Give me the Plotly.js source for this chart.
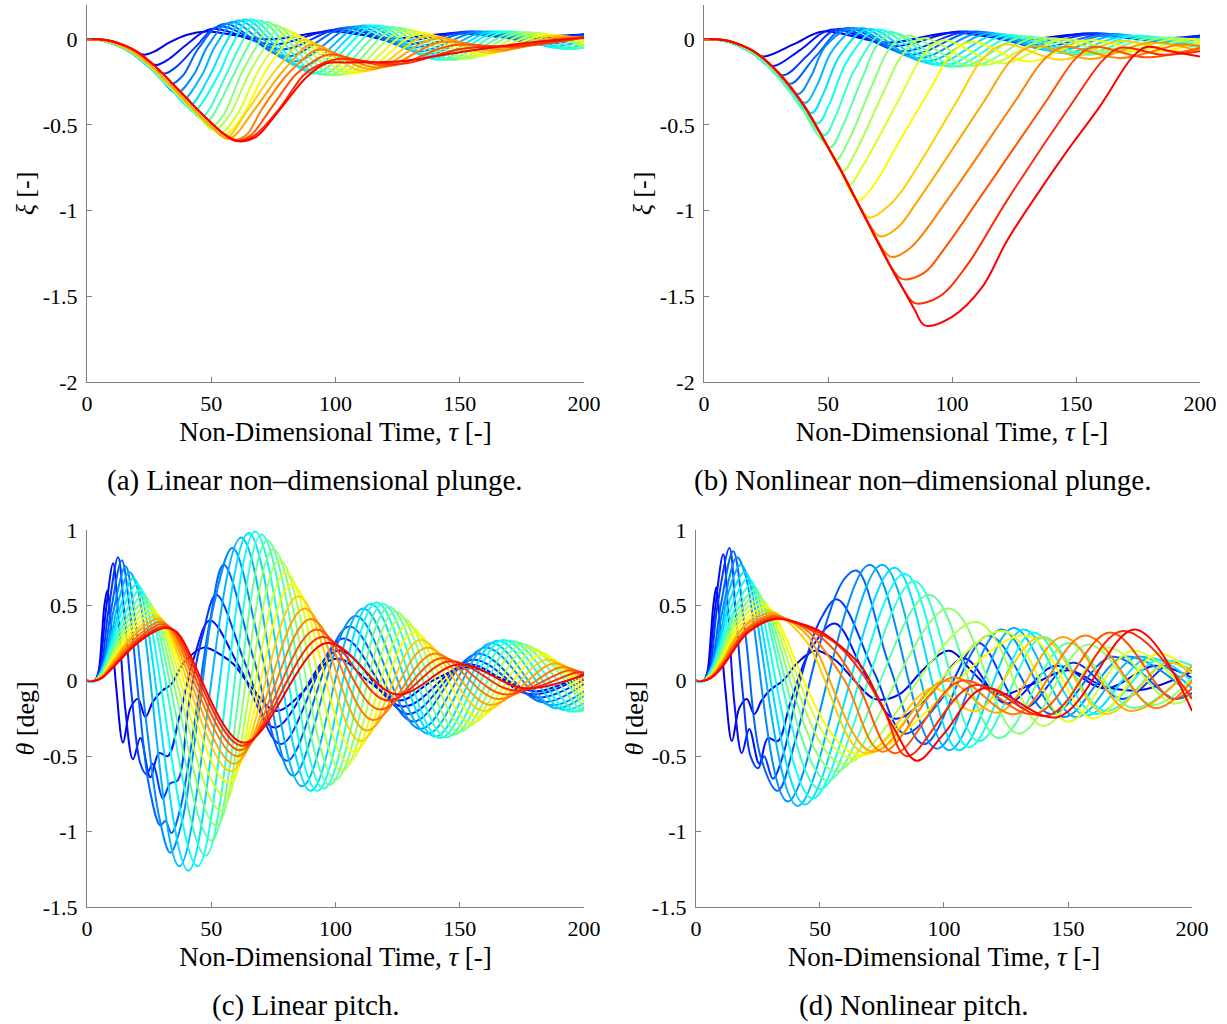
<!DOCTYPE html>
<html><head><meta charset="utf-8">
<script src="https://cdn.plot.ly/plotly-3.0.1.min.js"></script>
<style>html,body{margin:0;padding:0;background:#fff}#chart{width:1227px;height:1024px}</style>
</head><body><div id="chart"></div>
<script>
// ---- tick values / labels ----
const tauTicks = [0, 50, 100, 150, 200];
const plungeTicks = [0, -0.5, -1, -1.5, -2];
const pitchTicks = [1, 0.5, 0, -0.5, -1, -1.5];
const captions = ['(a) Linear non\u2013dimensional plunge.', '(b) Nonlinear non\u2013dimensional plunge.', '(c) Linear pitch.', '(d) Nonlinear pitch.'];

// ---- (a) linear plunge: time points and xi values, one row per gust case (blue -> red) ----
const linPlungeTau = [
[0,5,10,15,20,23,27,33,40,48,73,98,123,148,173,198,200],
[0,5,10,15,20,25,28,33,41,50,75,100,125,150,175,200],
[0,5,10,15,20,25,31,36,44,53,78,103,128,153,178,200],
[0,5,10,15,20,25,30,34,38.7,45,55,80,105,130,155,180,200],
[0,5,10,15,20,25,30,36,42.8,49,58,83,108,133,158,183,200],
[0,5,10,15,20,25,30,35,38.5,46.2,52,61,86,111,136,161,186,200],
[0,5,10,15,20,25,30,35,41,49.5,55.5,63.5,88.5,113.5,138.5,163.5,188.5,200],
[0,5,10,15,20,25,30,35,40,43,52.8,58.5,66,91,116,141,166,191,200],
[0,5,10,15,20,25,30,35,40,46,55.9,61.5,69,94,119,144,169,194,200],
[0,5,10,15,20,25,30,35,40,45,48,58.9,64.5,72,97,122,147,172,197,200],
[0,5,10,15,20,25,30,35,40,45,50,55,61.8,67.5,75,100,125,150,175,200],
[0,5,10,15,20,25,30,35,40,45,51,57,64.9,70.5,78,103,128,153,178,200],
[0,5,10,15,20,25,30,35,40,45,50,53.5,60,68,73.5,81,106,131,156,181,200],
[0,5,10,15,20,25,30,35,40,45,50,55,62.5,70.9,76.5,84,109,134,159,184,200],
[0,5,10,15,20,25,30,35,40,45,50,56,64.3,74.3,80,87,112,137,162,187,200],
[0,5,10,15,20,25,30,35,40,45,50,57,67.4,77.4,83,90,115,140,165,190,200],
[0,5,10,15,20,25,30,35,40,45,50,55,58.5,64,70.3,80.3,86,93,118,143,168,193,200],
[0,5,10,15,20,25,30,35,40,45,50,55,59.5,65.5,73.7,83.7,89,97,122,147,172,200],
[0,5,10,15,20,25,30,35,40,45,50,55,60,67,77.1,87.1,92,101,126,151,176,200],
[0,5,10,15,20,25,30,35,40,45,50,55,61,68,77.6,88.4,96.4,105,125,150,175,200]
];
const linPlungeXi = [
[0,-0.001,-0.012,-0.038,-0.075,-0.09,-0.072,-0.02,0.025,0.045,0.0,0.045,0.005,0.035,0.01,0.027,0.027],
[0,-0.002,-0.016,-0.044,-0.085,-0.135,-0.15,-0.115,-0.02,0.06,-0.03,0.055,-0.015,0.04,0.0,0.03],
[0,-0.003,-0.02,-0.05,-0.095,-0.155,-0.2,-0.16,-0.04,0.075,-0.06,0.065,-0.03,0.045,-0.01,0.03],
[0,-0.004,-0.023,-0.054,-0.101,-0.162,-0.225,-0.26,-0.21,-0.05,0.09,-0.1,0.07,-0.05,0.045,-0.02,0.02],
[0,-0.004,-0.023,-0.054,-0.101,-0.162,-0.235,-0.315,-0.21,-0.03,0.1,-0.13,0.075,-0.07,0.045,-0.03,0.01],
[0,-0.004,-0.023,-0.054,-0.101,-0.162,-0.235,-0.308,-0.355,-0.21,-0.03,0.11,-0.16,0.08,-0.09,0.045,-0.04,-0.01],
[0,-0.004,-0.023,-0.054,-0.101,-0.162,-0.235,-0.308,-0.39,-0.21,-0.03,0.115,-0.18,0.08,-0.11,0.045,-0.05,-0.03],
[0,-0.004,-0.023,-0.054,-0.101,-0.162,-0.235,-0.308,-0.385,-0.42,-0.21,-0.03,0.115,-0.2,0.08,-0.12,0.045,-0.055,-0.045],
[0,-0.003,-0.02,-0.05,-0.095,-0.155,-0.227,-0.3,-0.378,-0.455,-0.21,-0.04,0.11,-0.205,0.075,-0.12,0.045,-0.055,-0.05],
[0,-0.003,-0.02,-0.05,-0.095,-0.155,-0.227,-0.3,-0.378,-0.45,-0.485,-0.21,-0.05,0.1,-0.21,0.07,-0.12,0.04,-0.05,-0.05],
[0,-0.003,-0.02,-0.05,-0.095,-0.155,-0.227,-0.3,-0.378,-0.45,-0.51,-0.44,-0.21,-0.06,0.085,-0.21,0.065,-0.115,0.04,-0.045],
[0,-0.003,-0.02,-0.05,-0.095,-0.155,-0.227,-0.3,-0.378,-0.45,-0.53,-0.45,-0.21,-0.07,0.065,-0.205,0.055,-0.11,0.035,-0.035],
[0,-0.001,-0.017,-0.046,-0.088,-0.147,-0.217,-0.29,-0.367,-0.44,-0.51,-0.55,-0.45,-0.21,-0.08,0.045,-0.2,0.045,-0.1,0.03,-0.02],
[0,-0.001,-0.017,-0.046,-0.088,-0.147,-0.217,-0.29,-0.367,-0.44,-0.51,-0.565,-0.45,-0.21,-0.09,0.02,-0.195,0.035,-0.09,0.025,-0.01],
[0,-0.001,-0.017,-0.046,-0.088,-0.147,-0.217,-0.29,-0.367,-0.44,-0.51,-0.575,-0.42,-0.21,-0.11,-0.005,-0.185,0.02,-0.08,0.02,0],
[0,-0.001,-0.017,-0.046,-0.088,-0.147,-0.217,-0.29,-0.367,-0.44,-0.51,-0.582,-0.41,-0.21,-0.12,-0.03,-0.175,0.005,-0.07,0.015,0.005],
[0,0,-0.011,-0.036,-0.072,-0.127,-0.193,-0.268,-0.343,-0.418,-0.488,-0.552,-0.585,-0.56,-0.41,-0.21,-0.13,-0.06,-0.165,-0.015,-0.06,0.01,0.01],
[0,0,-0.011,-0.036,-0.072,-0.127,-0.193,-0.268,-0.343,-0.418,-0.488,-0.552,-0.59,-0.565,-0.41,-0.21,-0.15,-0.09,-0.155,-0.035,-0.045,0.01],
[0,0,-0.011,-0.036,-0.072,-0.127,-0.193,-0.268,-0.343,-0.418,-0.488,-0.552,-0.593,-0.565,-0.41,-0.21,-0.16,-0.115,-0.145,-0.055,-0.035,0.01],
[0,0,-0.011,-0.036,-0.072,-0.127,-0.193,-0.268,-0.343,-0.418,-0.488,-0.552,-0.595,-0.57,-0.41,-0.22,-0.14,-0.135,-0.13,-0.075,-0.025,0.01]
];

// ---- (b) nonlinear plunge ----
const nlPlungeTau = [
[0,5,10,15,20,24.5,36,48,74,100,126,152,178,200],
[0,5,10,15,20,25,28.5,39,51,77,103,129,155,181,200],
[0,5,10,15,20,25,32,42,54,80,106,132,158,184,200],
[0,5,10,15,20,25,30,35,45,57,83,109,135,161,187,200],
[0,5,10,15,20,25,30,38,43,49,60,86,112,138,164,190,200],
[0,5,10,15,20,25,30,35,41,45.5,52,63,89,115,141,167,193,200],
[0,5,10,15,20,25,30,35,43.5,48,55,66.5,92.5,118.5,144.5,170.5,196.5,200],
[0,5,10,15,20,25,30,35,40,46,50.5,58,70,96,122,148,174,200],
[0,5,10,15,20,25,30,35,40,48.5,53,61,73.5,99.5,125.5,151.5,177.5,200],
[0,5,10,15,20,25,30,35,40,45,51,55.5,64,70,77,103,129,155,181,200],
[0,5,10,15,20,25,30,35,40,45,50,53.5,58,68,75,82,108,134,160,186,200],
[0,5,10,15,20,25,30,35,40,45,50,56,61,72,80,88,113,139,165,190,200],
[0,5,10,15,20,25,30,35,40,45,50,55,58.5,64,79,88,96,120,145,170,195,200],
[0,5,10,15,20,25,30,35,40,45,50,55,62,68,79,92,100,108,131,155,179,200],
[0,5,10,15,20,25,30,35,40,45,50,55,60,66.5,73,79,102,112,121,144,168,190,200],
[0,5,10,15,20,25,30,35,40,45,50,55,60,65,71,78,86.3,113,124,133,156,180,200],
[0,5,10,15,20,25,30,35,40,45,50,55,60,65,70,75.5,83,98,125.5,137,145,168,192,200],
[0,5,10,15,20,25,30,35,40,45,50,55,60,65,70,75,80,89,97,110.5,138,150,157,178,200],
[0,5,10,15,20,25,30,35,40,45,50,55,60,65,70,75,80,85,95,106,122.2,149,161,168,185,200],
[0,5,10,15,20,25,30,35,40,45,50,55,60,65,70,75,80,85,89,100,112,122,132.7,146,159.7,173,178.5,188,200]
];
const nlPlungeXi = [
[0,-0.002,-0.015,-0.045,-0.08,-0.1,-0.03,0.045,-0.02,0.04,-0.005,0.03,0,0.02],
[0,-0.002,-0.015,-0.045,-0.085,-0.14,-0.155,-0.06,0.055,-0.04,0.045,-0.02,0.035,-0.005,0.02],
[0,-0.002,-0.015,-0.045,-0.085,-0.145,-0.21,-0.09,0.06,-0.07,0.045,-0.035,0.035,-0.01,0.015],
[0,-0.002,-0.015,-0.045,-0.085,-0.145,-0.215,-0.26,-0.1,0.065,-0.09,0.045,-0.05,0.03,-0.02,0.005],
[0,-0.002,-0.015,-0.045,-0.085,-0.145,-0.22,-0.32,-0.22,-0.04,0.065,-0.11,0.04,-0.06,0.03,-0.03,-0.02],
[0,-0.002,-0.015,-0.045,-0.085,-0.145,-0.22,-0.31,-0.37,-0.27,-0.06,0.065,-0.13,0.035,-0.07,0.025,-0.035,-0.03],
[0,-0.002,-0.015,-0.045,-0.085,-0.145,-0.22,-0.31,-0.43,-0.32,-0.09,0.06,-0.145,0.03,-0.08,0.02,-0.04,-0.04],
[0,-0.002,-0.015,-0.045,-0.085,-0.145,-0.22,-0.31,-0.415,-0.49,-0.38,-0.12,0.055,-0.155,0.025,-0.085,0.02,-0.045],
[0,-0.002,-0.015,-0.045,-0.085,-0.145,-0.22,-0.31,-0.415,-0.56,-0.45,-0.17,0.045,-0.16,0.02,-0.09,0.015,-0.05],
[0,-0.002,-0.015,-0.045,-0.085,-0.145,-0.22,-0.31,-0.415,-0.54,-0.63,-0.52,-0.22,-0.03,0.035,-0.16,0.015,-0.09,0.01,-0.04],
[0,0,-0.01,-0.035,-0.07,-0.125,-0.195,-0.28,-0.38,-0.5,-0.63,-0.7,-0.6,-0.26,-0.05,0.02,-0.155,0.01,-0.085,0.01,-0.03],
[0,0,-0.01,-0.035,-0.07,-0.125,-0.195,-0.28,-0.38,-0.5,-0.63,-0.77,-0.66,-0.32,-0.09,0.005,-0.15,0.005,-0.08,0.005,-0.01],
[0,0,-0.01,-0.035,-0.07,-0.125,-0.195,-0.28,-0.38,-0.5,-0.63,-0.76,-0.85,-0.74,-0.34,-0.1,-0.005,-0.14,0,-0.075,0,0],
[0,0,-0.01,-0.035,-0.07,-0.125,-0.195,-0.28,-0.38,-0.5,-0.63,-0.76,-0.94,-0.86,-0.59,-0.27,-0.08,-0.015,-0.13,-0.005,-0.075,-0.02],
[0,0,-0.01,-0.035,-0.07,-0.125,-0.195,-0.28,-0.38,-0.5,-0.63,-0.76,-0.9,-1.04,-0.99,-0.9,-0.36,-0.12,-0.03,-0.12,-0.01,-0.07,-0.06],
[0,0,-0.01,-0.035,-0.07,-0.125,-0.195,-0.28,-0.38,-0.5,-0.63,-0.76,-0.9,-1.04,-1.15,-1.1,-0.94,-0.36,-0.12,-0.04,-0.115,-0.02,-0.07],
[0,0,-0.01,-0.035,-0.07,-0.125,-0.195,-0.28,-0.38,-0.5,-0.63,-0.76,-0.9,-1.04,-1.18,-1.27,-1.22,-0.94,-0.36,-0.12,-0.045,-0.11,-0.03,-0.04],
[0,0,-0.01,-0.035,-0.07,-0.125,-0.195,-0.28,-0.38,-0.5,-0.63,-0.76,-0.9,-1.04,-1.18,-1.32,-1.4,-1.36,-1.22,-0.94,-0.36,-0.11,-0.045,-0.105,-0.05],
[0,0,-0.01,-0.035,-0.07,-0.125,-0.195,-0.28,-0.38,-0.5,-0.63,-0.76,-0.9,-1.04,-1.18,-1.32,-1.45,-1.54,-1.5,-1.32,-0.94,-0.36,-0.12,-0.05,-0.09,-0.07],
[0,0,-0.01,-0.035,-0.07,-0.125,-0.195,-0.28,-0.38,-0.5,-0.63,-0.76,-0.9,-1.04,-1.18,-1.32,-1.45,-1.58,-1.67,-1.62,-1.45,-1.18,-0.94,-0.66,-0.39,-0.1,-0.045,-0.07,-0.1]
];

// ---- (c) linear pitch ----
const linPitchTau = [
[0,3,4.5,6,7,8.2,9.8,11.8,14.5,17.5,20.5,23.5,26.5,30,34,39,47,55,59,66,76,86,97,103,113,126,139,153,166,180,190,200],
[0,3,5,7.5,10.5,12.5,15.5,18.5,21.5,25.5,29,32.5,37,43,49.5,62,75.5,101,127,153,179,200],
[0,3,5.5,8.5,12.5,15,18,21.5,24,26.5,30.5,33.5,36.5,41,46.5,52,64,78,103,129,155,181,200],
[0,3,6,9.5,14,17,21,25,29.5,31.5,34,37.5,44,49.5,55,67,80.5,105.5,131,157,183,200],
[0,3,6.5,10.5,15.5,19,24,29,33.5,38,45,51,58.5,70,83,108,134,160,186,200],
[0,3,6,10,13,17,20.5,37.2,62,86.5,111,137,162.5,188,200],
[0,3,6,10,14,18.5,22,40.8,65,90,114,140,165,191,200],
[0,3,6,10,15,20,23.5,44.5,67.6,92.6,116.5,142,167.5,193.5,200],
[0,3,6,10,16,21.2,25,47.7,70.2,95.2,119,144.5,170,196,200],
[0,3,6,10,16,22.3,26,50,72.6,97.6,121.5,147,172.5,198.5,200],
[0,3,6,10,17,23.3,27,52,75,100,124,149.5,175,200],
[0,3,6,10,17,24.3,28,53.7,77.5,102.5,126.5,152,177.5,200],
[0,3,6,10,18,25.3,29,55.2,80,105,129,154.5,180,200],
[0,3,6,10,18,26.3,30,56.6,82.5,107.5,131.5,157,182.5,200],
[0,3,6,10,19,27.2,31,58,85,110,134,159.5,185,200],
[0,3,6,10,19,28,32,59.3,87.5,112.5,136.5,162,188,200],
[0,3,6,10,20,28.8,33,60.5,90,115,139.5,165,191,200],
[0,3,6,10,20,29.6,34,61.5,92.3,117.5,142.5,168,194,200],
[0,3,6,10,21,30.4,35,62.3,94.5,120.5,146,172,197,200],
[0,3,6,10,21,31.2,36,63,96.5,124.6,150,176,200]
];
const linPitchTheta = [
[0,0,0.05,0.3,0.5,0.6,0.35,-0.05,-0.41,-0.18,-0.12,-0.24,-0.14,-0.07,-0.02,0.12,0.22,0.16,0.11,-0.04,-0.2,-0.09,0.13,0.14,0,-0.13,0,0.09,0.02,-0.07,-0.03,0.05],
[0,0,0.08,0.45,0.78,0.45,-0.2,-0.52,-0.38,-0.64,-0.48,-0.5,-0.25,0.15,0.4,0.07,-0.31,0.2,-0.17,0.11,-0.09,0.04],
[0,0,0.08,0.45,0.82,0.45,-0.1,-0.55,-0.62,-0.55,-0.78,-0.68,-0.66,-0.15,0.3,0.57,0.1,-0.42,0.28,-0.22,0.14,-0.11,0.01],
[0,0,0.08,0.45,0.8,0.5,-0.15,-0.7,-0.96,-0.93,-1.01,-0.85,-0.2,0.4,0.77,0.15,-0.53,0.36,-0.27,0.18,-0.14,-0.02],
[0,0,0.08,0.45,0.76,0.45,-0.3,-0.9,-1.14,-0.95,-0.2,0.5,0.88,0.2,-0.63,0.43,-0.32,0.22,-0.16,-0.07],
[0,0,0.08,0.32,0.55,0.72,0.6,-1.23,0.95,-0.7,0.48,-0.35,0.25,-0.18,-0.1],
[0,0,0.07,0.28,0.52,0.68,0.57,-1.26,0.98,-0.73,0.51,-0.37,0.265,-0.19,-0.15],
[0,0,0.06,0.25,0.5,0.64,0.54,-1.23,0.99,-0.73,0.52,-0.38,0.27,-0.2,-0.18],
[0,0,0.055,0.22,0.47,0.6,0.51,-1.16,0.97,-0.715,0.51,-0.375,0.265,-0.2,-0.195],
[0,0,0.05,0.2,0.42,0.565,0.49,-1.06,0.93,-0.69,0.49,-0.36,0.255,-0.19,-0.19],
[0,0,0.045,0.18,0.41,0.535,0.47,-0.96,0.87,-0.655,0.46,-0.34,0.24,-0.18],
[0,0,0.04,0.16,0.37,0.505,0.45,-0.86,0.8,-0.6,0.42,-0.31,0.22,-0.14],
[0,0,0.035,0.145,0.36,0.48,0.43,-0.76,0.72,-0.54,0.37,-0.28,0.2,-0.1],
[0,0,0.032,0.13,0.33,0.455,0.41,-0.67,0.64,-0.47,0.32,-0.24,0.17,-0.06],
[0,0,0.03,0.12,0.32,0.43,0.39,-0.6,0.56,-0.4,0.27,-0.2,0.14,-0.02],
[0,0,0.027,0.11,0.3,0.41,0.375,-0.55,0.48,-0.33,0.22,-0.16,0.115,0.01],
[0,0,0.025,0.1,0.29,0.39,0.36,-0.5,0.41,-0.26,0.18,-0.12,0.09,0.04],
[0,0,0.022,0.09,0.27,0.375,0.345,-0.46,0.34,-0.19,0.15,-0.09,0.07,0.05],
[0,0,0.02,0.085,0.27,0.36,0.335,-0.43,0.29,-0.13,0.13,-0.065,0.055,0.055],
[0,0,0.018,0.08,0.26,0.35,0.325,-0.41,0.25,-0.09,0.11,-0.05,0.04]
];

// ---- (d) nonlinear pitch ----
const nlPitchTau = [
[0,3,4.5,6,7,8.2,9.8,11.8,14.5,17.5,20.5,23.5,26.5,30,35,41,48,56,64,72,82,92,102,112,122,136,150,165,180,200],
[0,3,5,7.5,11,13,15.5,18.5,21.5,25.5,29,33,38,46,56,68,80,94,108,125,145,165,185,200],
[0,3,5.5,8.5,13.5,16,19,22,25,27.5,31,35,42,50,57,72,84,100,114,132,152,172,192,200],
[0,3,6,10,15,20,26,33,40,50,60,65,78,92,118,143,168,193,200],
[0,3,6.5,10.5,16.5,20,37,70,97,123,148,173,200],
[0,3,6,10,13,18,21.5,41,75,102,128,153,178,200],
[0,3,6,10,14,19.5,23,44,80,106,132,157,182,200],
[0,3,6,10,15,21,24.5,47,84,110,136,161,186,200],
[0,3,6,10,16,22.3,26,50,88,114,140,165,190,200],
[0,3,6,10,16,23.5,27,53,94,122,150,176,200],
[0,3,6,10,17,24.6,28,56,102,130,158,184,200],
[0,3,6,10,17,25.6,29,59,113,140,166,192,200],
[0,3,6,10,18,26.6,30,62,124,150,176,200],
[0,3,6,10,18,27.6,31,65,133,160,186,200],
[0,3,6,10,19,28.5,33,45,68,95,113,139,165,190,200],
[0,3,6,10,19,29.3,34,45,71,100,122,148,175,200],
[0,3,6,10,20,30,35,45,60,75,103,129,157,185,200],
[0,3,6,10,20,30.7,36,46,56,66,80,107,137,167,192,200],
[0,3,6,10,21,31.3,37,47,57,67,76,85,112,142,172,200],
[0,3,6,10,21,32,42,51,59,67,74,80,89,100,116,146,177,200]
];
const nlPitchTheta = [
[0,0,0.05,0.3,0.5,0.62,0.35,-0.05,-0.4,-0.18,-0.12,-0.22,-0.13,-0.06,0,0.12,0.2,0.14,0,-0.12,-0.09,0.08,0.2,0.05,-0.09,-0.02,0.07,-0.04,-0.06,0.06],
[0,0,0.08,0.45,0.84,0.45,-0.15,-0.48,-0.32,-0.55,-0.38,-0.4,-0.15,0.2,0.38,0.05,-0.25,-0.1,0.15,-0.15,0.1,-0.05,0.1,0.02],
[0,0,0.08,0.48,0.88,0.45,-0.1,-0.5,-0.58,-0.5,-0.65,-0.5,0,0.4,0.54,0.05,-0.35,-0.1,0.25,-0.18,0.12,-0.12,0.12,0.06],
[0,0,0.08,0.5,0.86,0.3,-0.5,-0.73,-0.4,0.25,0.68,0.73,0.1,-0.42,0.3,-0.22,0.16,-0.12,-0.08],
[0,0,0.08,0.45,0.82,0.7,-0.8,0.77,-0.45,0.34,-0.24,0.16,-0.1],
[0,0,0.08,0.32,0.58,0.77,0.66,-0.83,0.77,-0.46,0.35,-0.24,0.16,-0.05],
[0,0,0.07,0.28,0.55,0.72,0.62,-0.82,0.75,-0.46,0.34,-0.23,0.15,0],
[0,0,0.06,0.25,0.52,0.68,0.59,-0.78,0.71,-0.44,0.32,-0.22,0.14,0.05],
[0,0,0.055,0.22,0.49,0.64,0.56,-0.72,0.66,-0.4,0.29,-0.2,0.13,0.1],
[0,0,0.05,0.2,0.45,0.6,0.53,-0.66,0.57,-0.38,0.25,-0.18,0.1],
[0,0,0.045,0.18,0.44,0.57,0.51,-0.6,0.48,-0.35,0.24,-0.16,0.02],
[0,0,0.04,0.16,0.41,0.54,0.49,-0.55,0.39,-0.3,0.22,-0.15,-0.1],
[0,0,0.035,0.145,0.4,0.515,0.47,-0.51,0.33,-0.27,0.2,-0.12],
[0,0,0.032,0.13,0.37,0.49,0.455,-0.49,0.3,-0.25,0.18,0.05],
[0,0,0.03,0.12,0.36,0.47,0.44,0.25,-0.48,-0.05,-0.2,0.29,-0.22,0.12,0.05],
[0,0,0.027,0.11,0.35,0.45,0.43,0.3,-0.47,0,-0.21,0.29,-0.2,0.1],
[0,0,0.025,0.1,0.34,0.435,0.42,0.33,0,-0.47,0.02,-0.22,0.3,-0.18,0],
[0,0,0.022,0.09,0.33,0.425,0.41,0.34,0.2,-0.05,-0.48,0,-0.22,0.32,-0.12,-0.05],
[0,0,0.02,0.085,0.33,0.415,0.4,0.34,0.24,0.05,-0.2,-0.5,-0.03,-0.23,0.33,-0.12],
[0,0,0.018,0.08,0.32,0.41,0.38,0.32,0.22,0.09,-0.13,-0.32,-0.53,-0.35,-0.05,-0.24,0.34,-0.2]
];

// ---- styling ----
function jet(i, n) {
  const t = 0.1 + 0.775 * i / (n - 1);
  const c = v => Math.round(255 * Math.max(0, Math.min(1, 1.5 - Math.abs(v))));
  return 'rgb(' + c(4 * t - 3) + ',' + c(4 * t - 2) + ',' + c(4 * t - 1) + ')';
}
const SERIF = "'Liberation Serif', 'Times New Roman', serif";
const traces = [];
function addPanel(T, V, xa, ya) {
  for (let i = 0; i < T.length; i++) {
    traces.push({type: 'scatter', mode: 'lines', x: T[i], y: V[i], xaxis: xa, yaxis: ya,
      line: {color: jet(i, T.length), width: 2, shape: 'spline', smoothing: 1},
      hoverinfo: 'skip', showlegend: false});
  }
}
addPanel(linPlungeTau, linPlungeXi, 'x', 'y');
addPanel(nlPlungeTau, nlPlungeXi, 'x2', 'y2');
addPanel(linPitchTau, linPitchTheta, 'x3', 'y3');
addPanel(nlPitchTau, nlPitchTheta, 'x4', 'y4');

const fmt = v => String(v);
function xAxis(dom, anchor) {
  return {domain: dom, anchor: anchor, range: [0, 200], tickvals: tauTicks, ticktext: tauTicks.map(fmt),
    showgrid: false, zeroline: false, showline: true, linecolor: '#7f7f7f', linewidth: 1,
    ticks: 'inside', ticklen: 5, tickcolor: '#7f7f7f', ticklabelstandoff: 2,
    tickfont: {family: SERIF, size: 22, color: '#000'},
    title: {text: 'Non-Dimensional Time, <i>\u03c4</i> [-]', font: {family: SERIF, size: 27, color: '#000'}, standoff: 6}};
}
function yAxis(dom, anchor, rng, tv, ttl) {
  return {domain: dom, anchor: anchor, range: rng, tickvals: tv, ticktext: tv.map(fmt),
    showgrid: false, zeroline: false, showline: true, linecolor: '#7f7f7f', linewidth: 1,
    ticks: 'inside', ticklen: 5, tickcolor: '#7f7f7f', ticklabelstandoff: 4,
    tickfont: {family: SERIF, size: 22, color: '#000'},
    title: {text: ttl, font: {family: SERIF, size: 26, color: '#000'}, standoff: 0}};
}
const yTop = [0.6270, 0.9951], yBot = [0.1143, 0.4824];
const layout = {
  width: 1227, height: 1024, margin: {l: 0, r: 0, t: 0, b: 0},
  paper_bgcolor: '#fff', plot_bgcolor: '#fff', showlegend: false,
  xaxis: xAxis([0.0709, 0.4760], 'y'),
  yaxis: yAxis(yTop, 'x', [-2, 0.2], plungeTicks, '<i>\u03be</i> [-]'),
  xaxis2: xAxis([0.5738, 0.9780], 'y2'),
  yaxis2: yAxis(yTop, 'x2', [-2, 0.2], plungeTicks, '<i>\u03be</i> [-]'),
  xaxis3: xAxis([0.0709, 0.4760], 'y3'),
  yaxis3: yAxis(yBot, 'x3', [-1.5, 1], pitchTicks, '<i>\u03b8</i> [deg]'),
  xaxis4: xAxis([0.5672, 0.9715], 'y4'),
  yaxis4: yAxis(yBot, 'x4', [-1.5, 1], pitchTicks, '<i>\u03b8</i> [deg]'),
  annotations: [
    {text: captions[0], x: 0.2570, y: 0.5303},
    {text: captions[1], x: 0.7518, y: 0.5303},
    {text: captions[2], x: 0.2490, y: 0.0176},
    {text: captions[3], x: 0.7449, y: 0.0176}
  ].map(a => Object.assign(a, {xref: 'paper', yref: 'paper', showarrow: false, xanchor: 'center', yanchor: 'middle',
    font: {family: SERIF, size: 29, color: '#000'}}))
};
Plotly.newPlot('chart', traces, layout, {staticPlot: true, displayModeBar: false});
</script></body></html>
